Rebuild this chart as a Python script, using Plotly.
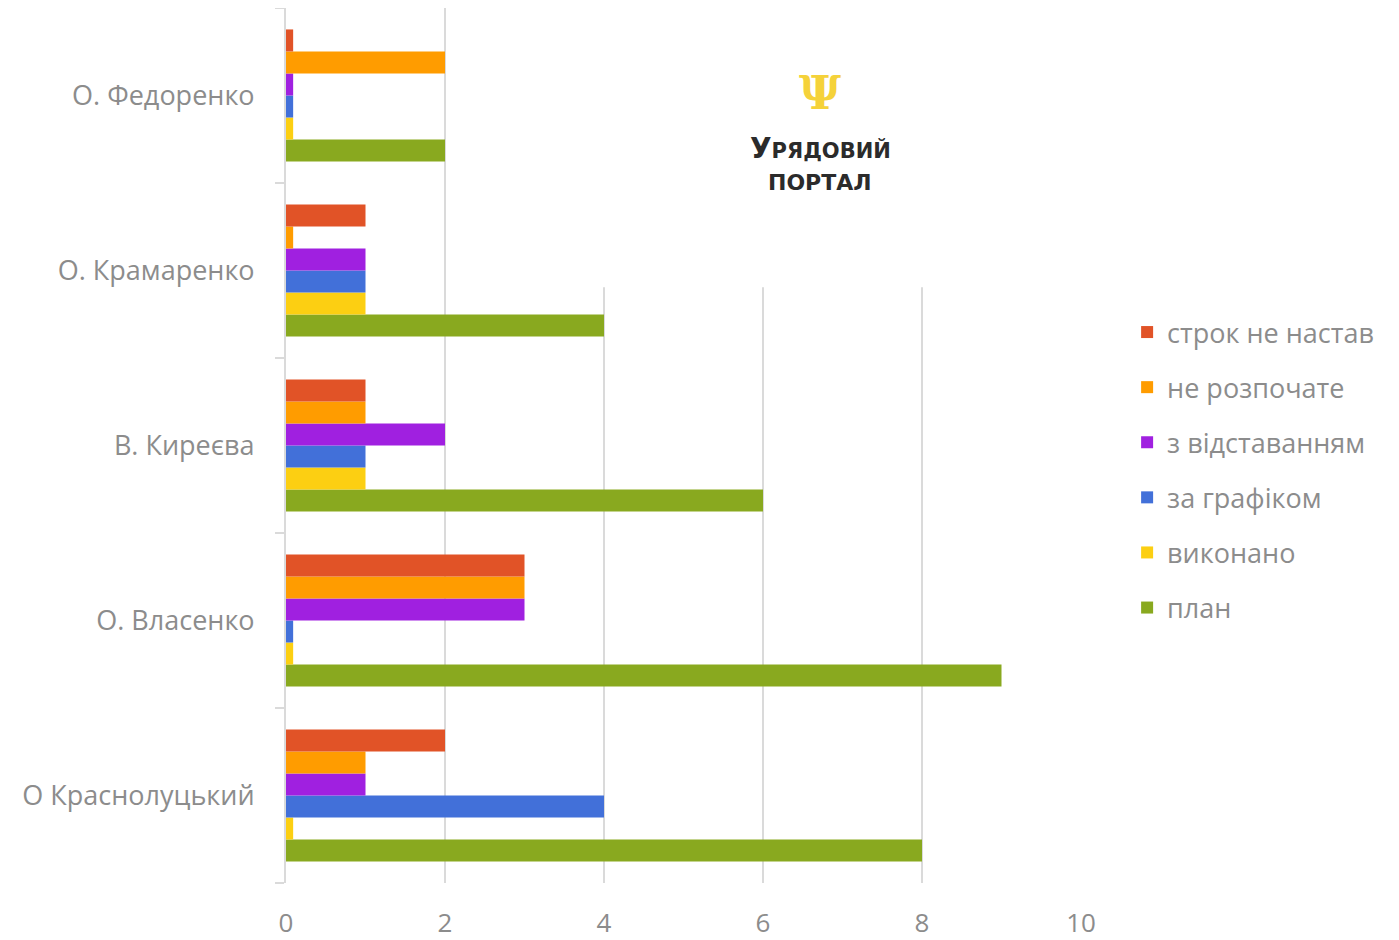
import plotly.graph_objects as go

categories = ["О Краснолуцький", "О. Власенко", "В. Киреєва", "О. Крамаренко", "О. Федоренко"]

# series (bottom-to-top within each group)
plan = [8, 9, 6, 4, 2]
vykonano = [0.09, 0.09, 1, 1, 0.09]
za_hrafikom = [4, 0.09, 1, 1, 0.09]
z_vidstavanniam = [1, 3, 2, 1, 0.09]
ne_rozpochate = [1, 3, 1, 0.09, 2]
strok_ne_nastav = [2, 3, 1, 1, 0.09]

series = [
    ("план", plan, "#89a91f"),
    ("виконано", vykonano, "#fccf12"),
    ("за графіком", za_hrafikom, "#4270d9"),
    ("з відставанням", z_vidstavanniam, "#a020e0"),
    ("не розпочате", ne_rozpochate, "#ff9c00"),
    ("строк не настав", strok_ne_nastav, "#e15327"),
]

x_ticks = [0, 2, 4, 6, 8, 10]

fig = go.Figure()
n = len(series)
for i, (name, vals, color) in enumerate(series):
    fig.add_trace(go.Bar(
        y=categories, x=vals, name=name, orientation="h",
        marker=dict(color=color, line=dict(width=0)),
        legendgroup=name, legendrank=100 * (n - i),
    ))

gray = "#8c8c8c"
grid = "#dadada"
fnt = "Open Sans"

fig.update_layout(
    width=1391, height=936,
    margin=dict(l=278, r=318, t=0, b=61),
    paper_bgcolor="white", plot_bgcolor="white",
    barmode="group", bargap=0.245, bargroupgap=0,
    font=dict(family=fnt, color=gray, size=27),
    showlegend=True,
    legend=dict(
        x=1.058, xanchor="left", y=0.472, yanchor="middle",
        traceorder="grouped", tracegroupgap=17,
        font=dict(size=27, color=gray, family=fnt),
        itemwidth=30,
    ),
    xaxis=dict(
        range=[0, 10], tickvals=x_ticks, showgrid=True, gridcolor=grid, gridwidth=2,
        zeroline=False, showline=False, ticks="", automargin=False,
        tickfont=dict(size=26, color=gray, family=fnt),
        ticklabelstandoff=22,
    ),
    yaxis=dict(
        showgrid=False, showline=True, linecolor=grid, linewidth=2, automargin=False,
        ticks="outside", tickson="boundaries", ticklen=9, tickcolor=grid, tickwidth=2,
        tickfont=dict(size=27, color=gray, family=fnt),
        ticklabelstandoff=24,
    ),
)

# white panel hiding the gridlines behind the logo
fig.add_shape(type="rect", xref="paper", yref="paper",
              x0=0.21, x1=1.08, y0=0.681, y1=1.02,
              fillcolor="white", line=dict(width=0), layer="above")

fig.add_annotation(xref="paper", yref="paper", x=0.672, y=0.903,
                   xanchor="center", yanchor="middle",
                   text="<b>Ψ</b>", showarrow=False,
                   font=dict(size=46, color="#f5d23a", family="DejaVu Serif"))
fig.add_annotation(xref="paper", yref="paper", x=0.672, y=0.84,
                   xanchor="center", yanchor="middle",
                   text="<b>У<span style='font-size:21px'>РЯДОВИЙ</span></b>", showarrow=False,
                   font=dict(size=28, color="#2b2b2b", family="DejaVu Sans"))
fig.add_annotation(xref="paper", yref="paper", x=0.672, y=0.801,
                   xanchor="center", yanchor="middle",
                   text="<b>ПОРТАЛ</b>", showarrow=False,
                   font=dict(size=22, color="#2b2b2b", family="DejaVu Sans"))

fig.write_html("out.html")
